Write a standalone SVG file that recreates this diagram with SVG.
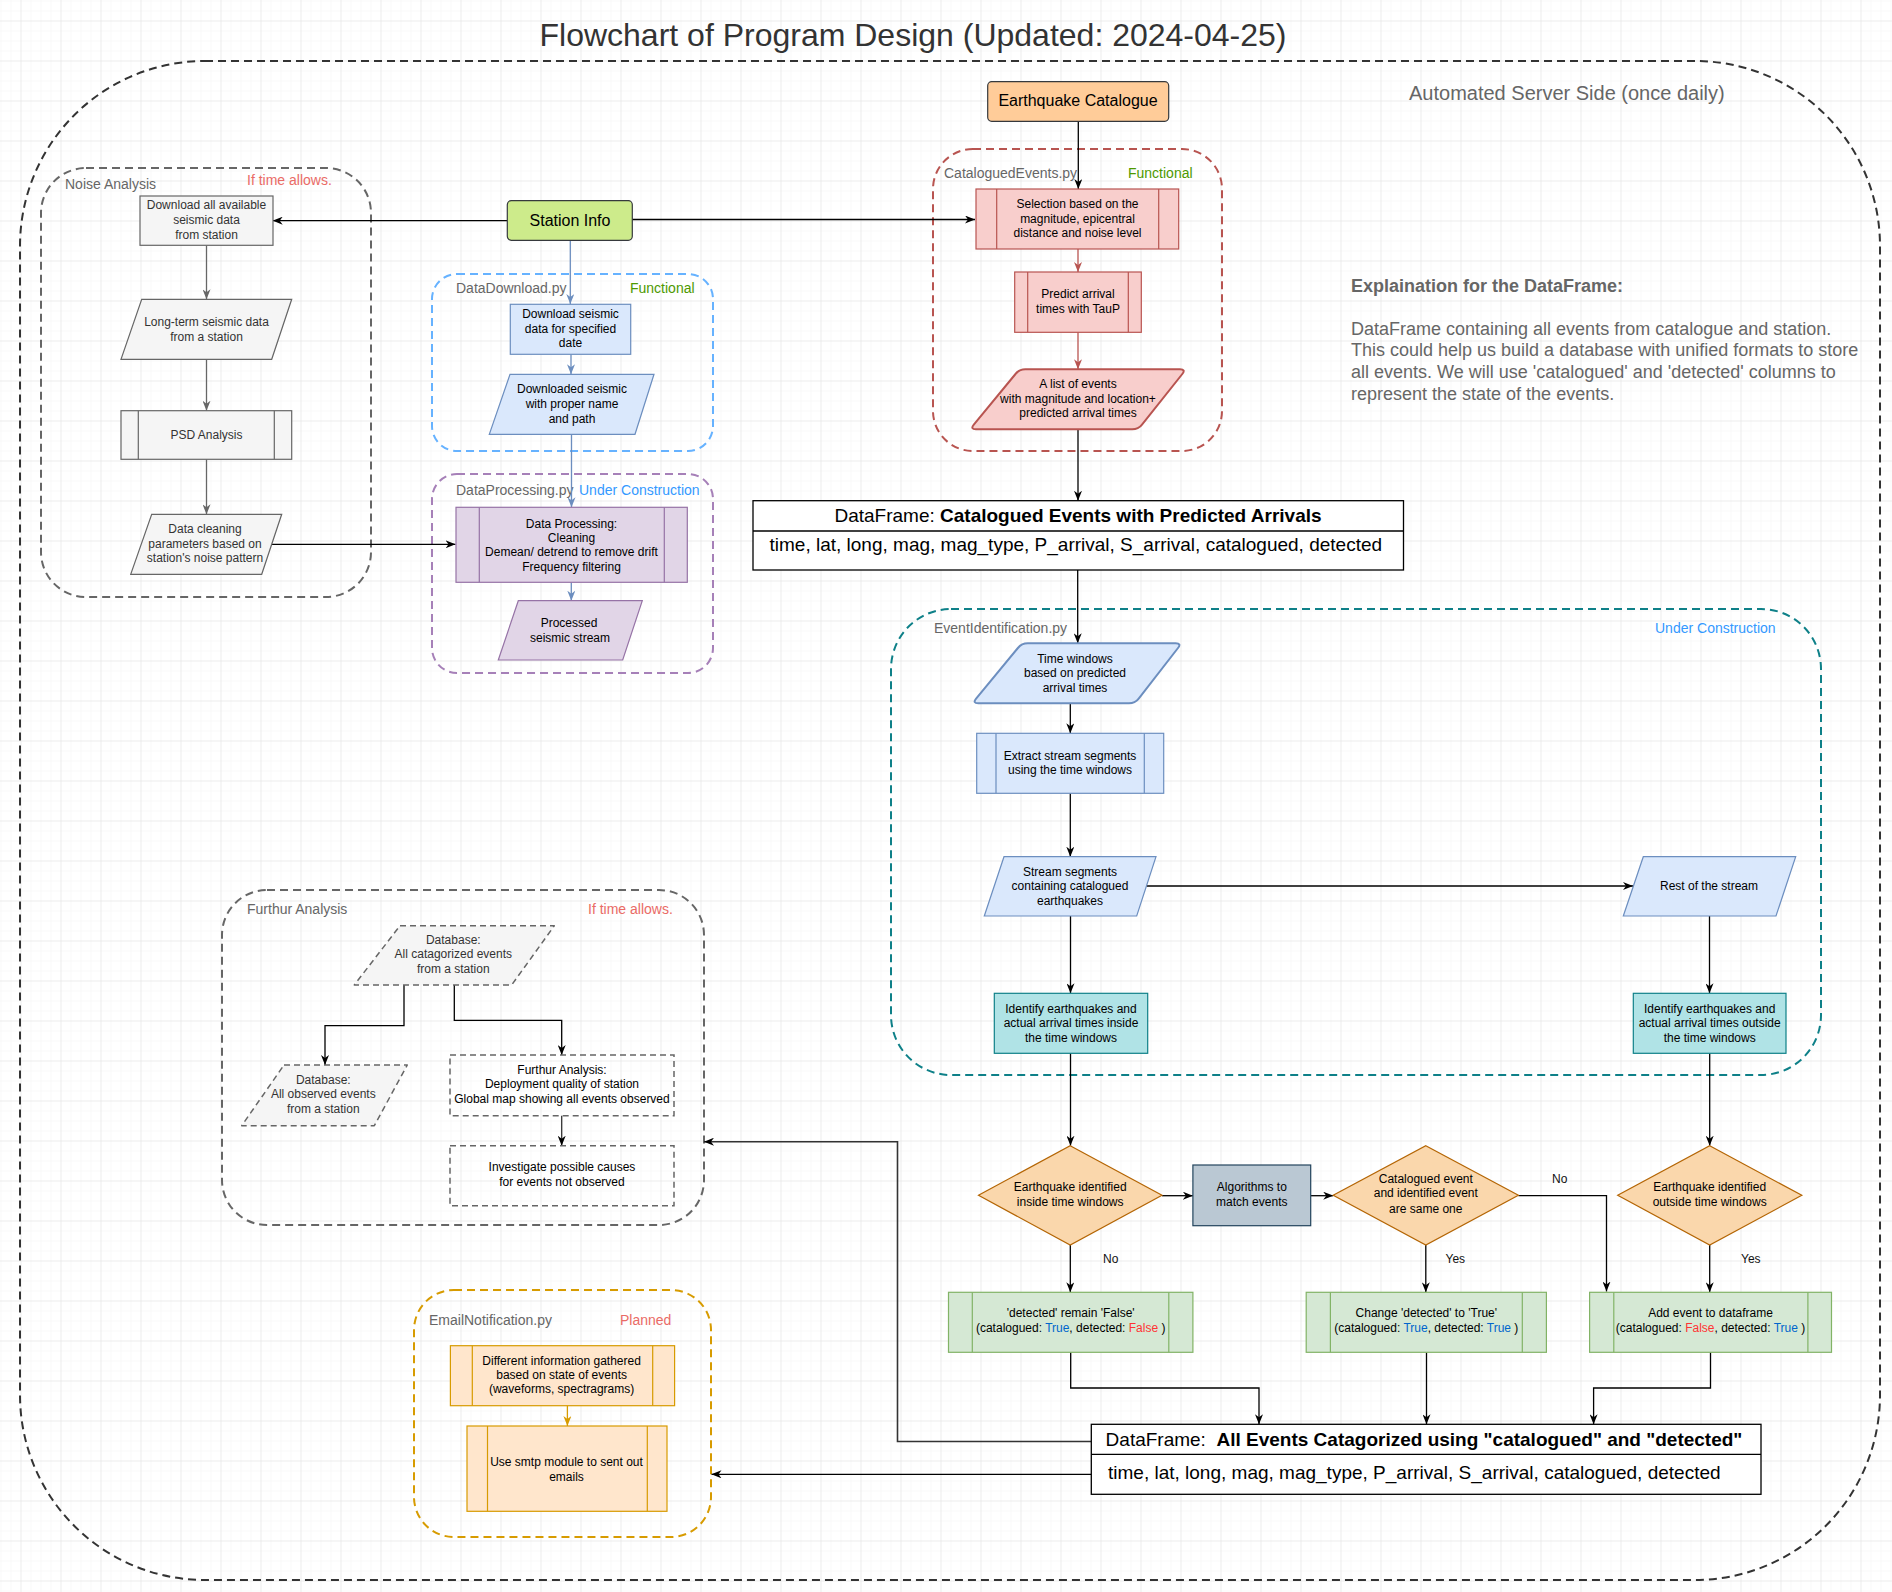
<svg xmlns="http://www.w3.org/2000/svg" width="1892" height="1592" viewBox="0 0 1892 1592">
<style>
text{font-family:"Liberation Sans",Arial,Helvetica,sans-serif}
.c{text-anchor:middle}
.b12{font-size:12px;fill:#000}
.g12{font-size:12px;fill:#333}
.grp{font-size:14px;fill:#666}
.red{font-size:14px;fill:#EA6B66}
.grn{font-size:14px;fill:#4D9900}
.blu{font-size:14px;fill:#3399FF}
.lab{font-size:12px;fill:#111}
.tr{fill:#0066CC}
.fa{fill:#FF3333}
.gr{fill:none;stroke-width:2;stroke-dasharray:8 5}
.cn{fill:none;stroke:#000;stroke-width:1.3}
.gray{fill:#f5f5f5;stroke:#666;stroke-width:1.2}
.blue{fill:#dae8fc;stroke:#6c8ebf;stroke-width:1.2}
.purp{fill:#e1d5e7;stroke:#9673a6;stroke-width:1.2}
.pink{fill:#f8cecc;stroke:#b85450;stroke-width:1.2}
.teal{fill:#b0e3e6;stroke:#0e8088;stroke-width:1.2}
.oran{fill:#fad7ac;stroke:#b46504;stroke-width:1.2}
.gree{fill:#d5e8d4;stroke:#82b366;stroke-width:1.2}
.peach{fill:#ffe6cc;stroke:#d79b00;stroke-width:1.2}
.dsh{stroke:#666;stroke-width:1.5;stroke-dasharray:6 4}
</style>
<defs>
<pattern id="gmin" width="10" height="10" patternUnits="userSpaceOnUse" x="0.5" y="0.5"><path d="M10 0H0V10" fill="none" stroke="#f4f4f4" stroke-width="1"/></pattern>
<pattern id="gmaj" width="40" height="40" patternUnits="userSpaceOnUse" x="20.5" y="20.5"><path d="M40 0H0V40" fill="none" stroke="#e4e4e4" stroke-width="1"/></pattern>
<marker id="ak" viewBox="0 0 10 8" refX="10" refY="4" markerWidth="10" markerHeight="8" markerUnits="userSpaceOnUse" orient="auto"><path d="M0,0 L10,4 L0,8 L3,4 Z" fill="#000"/></marker>
<marker id="ag" viewBox="0 0 10 8" refX="10" refY="4" markerWidth="10" markerHeight="8" markerUnits="userSpaceOnUse" orient="auto"><path d="M0,0 L10,4 L0,8 L3,4 Z" fill="#666"/></marker>
<marker id="ab" viewBox="0 0 10 8" refX="10" refY="4" markerWidth="10" markerHeight="8" markerUnits="userSpaceOnUse" orient="auto"><path d="M0,0 L10,4 L0,8 L3,4 Z" fill="#6c8ebf"/></marker>
<marker id="ar" viewBox="0 0 10 8" refX="10" refY="4" markerWidth="10" markerHeight="8" markerUnits="userSpaceOnUse" orient="auto"><path d="M0,0 L10,4 L0,8 L3,4 Z" fill="#b85450"/></marker>
<marker id="ao" viewBox="0 0 10 8" refX="10" refY="4" markerWidth="10" markerHeight="8" markerUnits="userSpaceOnUse" orient="auto"><path d="M0,0 L10,4 L0,8 L3,4 Z" fill="#d79b00"/></marker>
</defs>
<rect width="1892" height="1592" fill="#fff"/>
<rect width="1892" height="1592" fill="url(#gmin)"/>
<rect width="1892" height="1592" fill="url(#gmaj)"/>

<text x="913" y="46" class="c" style="font-size:32px;fill:#333">Flowchart of Program Design (Updated: 2024-04-25)</text>

<g id="server-side">
<rect x="20" y="61" width="1860" height="1519" rx="185" class="gr" stroke="#333"/>
<text x="1409" y="100" style="font-size:20px;fill:#666">Automated Server Side (once daily)</text>
</g>

<g id="explanation">
<text x="1351" y="292" style="font-size:18px;fill:#666;font-weight:bold">Explaination for the DataFrame:</text>
<text x="1351" y="334.5" style="font-size:18px;fill:#666">DataFrame containing all events from catalogue and station.</text>
<text x="1351" y="356.2" style="font-size:18px;fill:#666">This could help us build a database with unified formats to store</text>
<text x="1351" y="377.9" style="font-size:18px;fill:#666">all events. We will use 'catalogued' and 'detected' columns to</text>
<text x="1351" y="399.6" style="font-size:18px;fill:#666">represent the state of the events.</text>
</g>

<!-- Groups / containers -->
<g id="noise-analysis">
<rect x="41" y="168" width="330" height="429" rx="45" class="gr" stroke="#666"/>
<text x="65" y="189" class="grp">Noise Analysis</text>
<text x="247" y="185" class="red">If time allows.</text>
</g>
<g id="datadownload-py">
<rect x="432" y="274" width="281" height="177" rx="25" class="gr" stroke="#66B2FF"/>
<text x="456" y="293" class="grp">DataDownload.py</text>
<text x="630" y="293" class="grn">Functional</text>
</g>
<g id="dataprocessing-py">
<rect x="432" y="474" width="281" height="199" rx="25" class="gr" stroke="#A680B8"/>
<text x="456" y="495" class="grp">DataProcessing.py</text>
<text x="579" y="495" class="blu">Under Construction</text>
</g>
<g id="cataloguedevents-py">
<rect x="933" y="149" width="289" height="302" rx="40" class="gr" stroke="#b85450"/>
<text x="944" y="178" class="grp">CataloguedEvents.py</text>
<text x="1128" y="178" class="grn">Functional</text>
</g>
<g id="eventidentification-py">
<rect x="891" y="609" width="930" height="466" rx="60" class="gr" stroke="#0e8088"/>
<text x="934" y="633" class="grp">EventIdentification.py</text>
<text x="1655" y="633" class="blu">Under Construction</text>
</g>
<g id="furthur-analysis">
<rect x="222" y="890" width="482" height="335" rx="45" class="gr" stroke="#666"/>
<text x="247" y="914" class="grp">Furthur Analysis</text>
<text x="588" y="914" class="red">If time allows.</text>
</g>
<g id="emailnotification-py">
<rect x="414" y="1290" width="297" height="247" rx="40" class="gr" stroke="#d79b00"/>
<text x="429" y="1325" class="grp">EmailNotification.py</text>
<text x="620" y="1325" class="red">Planned</text>
</g>

<!-- Connectors -->
<g id="connectors">
<path d="M507,220.7 H272.7" class="cn" marker-end="url(#ak)"/>
<path d="M632,219.5 H975" class="cn" marker-end="url(#ak)"/>
<path d="M206.5,245.3 V299.3" class="cn" style="stroke:#666" marker-end="url(#ag)"/>
<path d="M206.5,359.3 V410.7" class="cn" style="stroke:#666" marker-end="url(#ag)"/>
<path d="M206.5,459.3 V514.3" class="cn" style="stroke:#666" marker-end="url(#ag)"/>
<path d="M271.7,544.3 H455.5" class="cn" marker-end="url(#ak)"/>
<path d="M570.3,240.3 V304" class="cn" style="stroke:#6c8ebf" marker-end="url(#ab)"/>
<path d="M571,354.3 V374.3" class="cn" style="stroke:#6c8ebf" marker-end="url(#ab)"/>
<path d="M571.5,434.3 V507.3" class="cn" style="stroke:#6c8ebf" marker-end="url(#ab)"/>
<path d="M571.3,582.3 V600.7" class="cn" style="stroke:#6c8ebf" marker-end="url(#ab)"/>
<path d="M1078.3,121.3 V189" class="cn" marker-end="url(#ak)"/>
<path d="M1078,249 V272" class="cn" style="stroke:#b85450" marker-end="url(#ar)"/>
<path d="M1078,332.3 V369.3" class="cn" style="stroke:#b85450" marker-end="url(#ar)"/>
<path d="M1078,429.3 V500.7" class="cn" marker-end="url(#ak)"/>
<path d="M1077.7,570 V643.3" class="cn" marker-end="url(#ak)"/>
<path d="M1070.3,703.3 V733.3" class="cn" marker-end="url(#ak)"/>
<path d="M1070.3,793.3 V856.7" class="cn" marker-end="url(#ak)"/>
<path d="M1146.5,886 H1633" class="cn" marker-end="url(#ak)"/>
<path d="M1070.5,916 V993.3" class="cn" marker-end="url(#ak)"/>
<path d="M1709.5,916 V993.3" class="cn" marker-end="url(#ak)"/>
<path d="M1070.5,1053.3 V1145.7" class="cn" marker-end="url(#ak)"/>
<path d="M1709.7,1053.3 V1145.7" class="cn" marker-end="url(#ak)"/>
<path d="M1162,1195.7 H1192.9" class="cn" marker-end="url(#ak)"/>
<path d="M1310.7,1195.7 H1333.2" class="cn" marker-end="url(#ak)"/>
<path d="M1518.4,1195.7 H1606.5 V1291.5" class="cn" marker-end="url(#ak)"/>
<path d="M1070.3,1245 V1292.3" class="cn" marker-end="url(#ak)"/>
<path d="M1425.8,1245 V1292.3" class="cn" marker-end="url(#ak)"/>
<path d="M1709.7,1245 V1292.3" class="cn" marker-end="url(#ak)"/>
<path d="M1070.7,1352.3 V1388 H1259 V1424.3" class="cn" marker-end="url(#ak)"/>
<path d="M1426.5,1352.3 V1424.3" class="cn" marker-end="url(#ak)"/>
<path d="M1710.5,1352.3 V1388 H1593.6 V1424.3" class="cn" marker-end="url(#ak)"/>
<path d="M1091.3,1441.5 H897.5 V1141.7 H704" class="cn" style="stroke:#333;stroke-width:1.6" marker-end="url(#ak)"/>
<path d="M1091.3,1474.3 H711.5" class="cn" marker-end="url(#ak)"/>
<path d="M404,985 V1025.7 H325 V1065" class="cn" marker-end="url(#ak)"/>
<path d="M454.3,985 V1020.3 H561.7 V1055" class="cn" marker-end="url(#ak)"/>
<path d="M561.7,1115.7 V1145.7" class="cn" style="stroke:#333" marker-end="url(#ak)"/>
<path d="M567.4,1405.7 V1426" class="cn" style="stroke:#d79b00" marker-end="url(#ao)"/>
<text x="1103" y="1263" class="lab">No</text>
<text x="1445.5" y="1263" class="lab">Yes</text>
<text x="1552" y="1183" class="lab">No</text>
<text x="1741" y="1263" class="lab">Yes</text>
</g>

<!-- Nodes -->
<g id="station-info">
<rect x="507.3" y="200.7" width="125" height="39.6" rx="4" fill="#cdeb8b" stroke="#36393d" stroke-width="1.2"/>
<text x="570" y="226" class="c" style="font-size:16px;fill:#000">Station Info</text>
</g>
<g id="earthquake-catalogue">
<rect x="987.7" y="81.7" width="181" height="39.6" rx="4" fill="#ffcc99" stroke="#36393d" stroke-width="1.2"/>
<text x="1078" y="106" class="c" style="font-size:16px;fill:#000">Earthquake Catalogue</text>
</g>

<g id="noise-download">
<rect x="140" y="196" width="133" height="49.3" class="gray"/>
<text class="c g12"><tspan x="206.5" y="209.3">Download all available</tspan><tspan x="206.5" y="224">seismic data</tspan><tspan x="206.5" y="238.7">from station</tspan></text>
</g>
<g id="noise-longterm">
<polygon points="141.7,299.3 291.7,299.3 271.7,359.3 121,359.3" class="gray"/>
<text class="c g12"><tspan x="206.5" y="326">Long-term seismic data</tspan><tspan x="206.5" y="340.7">from a station</tspan></text>
</g>
<g id="noise-psd">
<rect x="121" y="410.7" width="170.7" height="48.6" class="gray"/>
<path d="M138.3,410.7 V459.3 M274.3,410.7 V459.3" class="gray"/>
<text x="206.5" y="438.7" class="c g12">PSD Analysis</text>
</g>
<g id="noise-cleaning">
<polygon points="151.7,514.3 281.7,514.3 261.7,574.3 130.7,574.3" class="gray"/>
<text class="c g12"><tspan x="205" y="533.3">Data cleaning</tspan><tspan x="205" y="548">parameters based on</tspan><tspan x="205" y="562.3">station's noise pattern</tspan></text>
</g>

<g id="download-seismic">
<rect x="510.3" y="304.3" width="120.4" height="50" class="blue"/>
<text class="c b12"><tspan x="570.5" y="318.3">Download seismic</tspan><tspan x="570.5" y="332.7">data for specified</tspan><tspan x="570.5" y="347.3">date</tspan></text>
</g>
<g id="downloaded-seismic">
<polygon points="510,374.3 654,374.3 635,434.3 489.3,434.3" class="blue"/>
<text class="c b12"><tspan x="572" y="393.3">Downloaded seismic</tspan><tspan x="572" y="407.7">with proper name</tspan><tspan x="572" y="422.7">and path</tspan></text>
</g>
<g id="data-processing">
<rect x="456" y="507.3" width="231.3" height="75" class="purp"/>
<path d="M479.3,507.3 V582.3 M664.3,507.3 V582.3" class="purp"/>
<text class="c b12"><tspan x="571.5" y="527.7">Data Processing:</tspan><tspan x="571.5" y="541.7">Cleaning</tspan><tspan x="571.5" y="556">Demean/ detrend to remove drift</tspan><tspan x="571.5" y="570.7">Frequency filtering</tspan></text>
</g>
<g id="processed-stream">
<polygon points="518.3,600.7 642.3,600.7 622.7,660 498.3,660" class="purp"/>
<text class="c b12"><tspan x="569" y="626.7">Processed</tspan><tspan x="570" y="641.7">seismic stream</tspan></text>
</g>

<g id="selection">
<rect x="976" y="189" width="202.7" height="60" class="pink"/>
<path d="M996.7,189 V249 M1158.7,189 V249" class="pink"/>
<text class="c b12"><tspan x="1077.5" y="208.3">Selection based on the</tspan><tspan x="1077.5" y="222.7">magnitude, epicentral</tspan><tspan x="1077.5" y="237.3">distance and noise level</tspan></text>
</g>
<g id="predict-arrival">
<rect x="1014.7" y="272" width="126.6" height="60.3" class="pink"/>
<path d="M1027.7,272 V332.3 M1128.3,272 V332.3" class="pink"/>
<text class="c b12"><tspan x="1078" y="298.3">Predict arrival</tspan><tspan x="1078" y="312.7">times with TauP</tspan></text>
</g>
<g id="event-list">
<path d="M1025.3,369.3 L1180,369.3 Q1186,369.3 1182.3,374 L1142,424.6 Q1138.3,429.3 1132.3,429.3 L976,429.3 Q970,429.3 973.8,424.7 L1015.5,374 Q1019.3,369.3 1025.3,369.3 Z" fill="#f8cecc" stroke="#b85450" stroke-width="2"/>
<text class="c b12"><tspan x="1078" y="388.3">A list of events</tspan><tspan x="1078" y="402.7">with magnitude and location+</tspan><tspan x="1078" y="417.3">predicted arrival times</tspan></text>
</g>

<g id="dataframe-catalogued">
<rect x="753" y="500.7" width="650.5" height="69.3" fill="#fff" stroke="#000" stroke-width="1.3"/>
<path d="M753,531 H1403.5" stroke="#000" stroke-width="1.3"/>
<text x="1078" y="522" class="c" style="font-size:19px;fill:#000">DataFrame: <tspan style="font-weight:bold">Catalogued Events with Predicted Arrivals</tspan></text>
<text x="769.5" y="551" style="font-size:19px;fill:#000">time, lat, long, mag, mag_type, P_arrival, S_arrival, catalogued, detected</text>
</g>

<g id="time-windows">
<path d="M1027.7,643.3 L1175.7,643.3 Q1181.7,643.3 1178,648 L1138.7,698.6 Q1135,703.3 1129,703.3 L978.3,703.3 Q972.3,703.3 976.1,698.7 L1017.9,648 Q1021.7,643.3 1027.7,643.3 Z" fill="#dae8fc" stroke="#6c8ebf" stroke-width="2"/>
<text class="c b12"><tspan x="1075" y="662.7">Time windows</tspan><tspan x="1075" y="676.7">based on predicted</tspan><tspan x="1075" y="691.7">arrival times</tspan></text>
</g>
<g id="extract-segments">
<rect x="976.7" y="733.3" width="187" height="60" class="blue"/>
<path d="M996,733.3 V793.3 M1144.3,733.3 V793.3" class="blue"/>
<text class="c b12"><tspan x="1070" y="760">Extract stream segments</tspan><tspan x="1070" y="774.3">using the time windows</tspan></text>
</g>
<g id="stream-segments">
<polygon points="1004,856.7 1156,856.7 1136.7,916 984.3,916" class="blue"/>
<text class="c b12"><tspan x="1070" y="876">Stream segments</tspan><tspan x="1070" y="890">containing catalogued</tspan><tspan x="1070" y="905">earthquakes</tspan></text>
</g>
<g id="rest-of-stream">
<polygon points="1643.3,856.7 1795.7,856.7 1776,916 1623.3,916" class="blue"/>
<text x="1709" y="890" class="c b12">Rest of the stream</text>
</g>
<g id="identify-inside">
<rect x="994.3" y="993.3" width="153.4" height="60" class="teal"/>
<text class="c b12"><tspan x="1071" y="1012.7">Identify earthquakes and</tspan><tspan x="1071" y="1026.7">actual arrival times inside</tspan><tspan x="1071" y="1041.7">the time windows</tspan></text>
</g>
<g id="identify-outside">
<rect x="1633.3" y="993.3" width="152.7" height="60" class="teal"/>
<text class="c b12"><tspan x="1709.7" y="1012.7">Identify earthquakes and</tspan><tspan x="1709.7" y="1026.7">actual arrival times outside</tspan><tspan x="1709.7" y="1041.7">the time windows</tspan></text>
</g>

<g id="decision-inside">
<polygon points="1070.2,1145.7 1162,1195.3 1070.2,1245 978.5,1195.3" class="oran"/>
<text class="c b12"><tspan x="1070.2" y="1190.7">Earthquake identified</tspan><tspan x="1070.2" y="1205.7">inside time windows</tspan></text>
</g>
<g id="algorithms">
<rect x="1192.9" y="1165" width="117.8" height="60.7" fill="#bac8d3" stroke="#23445d" stroke-width="1.2"/>
<text class="c b12"><tspan x="1251.8" y="1190.7">Algorithms to</tspan><tspan x="1251.8" y="1205.7">match events</tspan></text>
</g>
<g id="decision-same">
<polygon points="1425.8,1145.7 1518.4,1195.3 1425.8,1245 1333.2,1195.3" class="oran"/>
<text class="c b12"><tspan x="1425.8" y="1183.3">Catalogued event</tspan><tspan x="1425.8" y="1197.3">and identified event</tspan><tspan x="1425.8" y="1212.7">are same one</tspan></text>
</g>
<g id="decision-outside">
<polygon points="1709.7,1145.7 1801.8,1195.3 1709.7,1245 1617.7,1195.3" class="oran"/>
<text class="c b12"><tspan x="1709.7" y="1190.7">Earthquake identified</tspan><tspan x="1709.7" y="1205.7">outside time windows</tspan></text>
</g>

<g id="remain-false">
<rect x="948.5" y="1292.3" width="244.4" height="60" class="gree"/>
<path d="M972.3,1292.3 V1352.3 M1168.8,1292.3 V1352.3" class="gree"/>
<text class="c b12"><tspan x="1070.7" y="1316.7">'detected' remain 'False'</tspan><tspan x="1070.7" y="1332.3">(catalogued: <tspan class="tr">True</tspan>, detected: <tspan class="fa">False</tspan> )</tspan></text>
</g>
<g id="change-true">
<rect x="1306.2" y="1292.3" width="240.2" height="60" class="gree"/>
<path d="M1330.4,1292.3 V1352.3 M1522.3,1292.3 V1352.3" class="gree"/>
<text class="c b12"><tspan x="1426.3" y="1316.7">Change 'detected' to 'True'</tspan><tspan x="1426.3" y="1332.3">(catalogued: <tspan class="tr">True</tspan>, detected: <tspan class="tr">True</tspan> )</tspan></text>
</g>
<g id="add-event">
<rect x="1589.6" y="1292.3" width="241.9" height="60" class="gree"/>
<path d="M1613.8,1292.3 V1352.3 M1807.9,1292.3 V1352.3" class="gree"/>
<text class="c b12"><tspan x="1710.5" y="1316.7">Add event to dataframe</tspan><tspan x="1710.5" y="1332.3">(catalogued: <tspan class="fa">False</tspan>, detected: <tspan class="tr">True</tspan> )</tspan></text>
</g>

<g id="dataframe-all">
<rect x="1091.3" y="1424.3" width="669.7" height="70" fill="#fff" stroke="#000" stroke-width="1.3"/>
<path d="M1091.3,1454.3 H1761" stroke="#000" stroke-width="1.3"/>
<text x="1105.6" y="1446" style="font-size:19px;fill:#000">DataFrame:&#160; <tspan style="font-weight:bold">All Events Catagorized using "catalogued" and "detected"</tspan></text>
<text x="1108" y="1479" style="font-size:19px;fill:#000">time, lat, long, mag, mag_type, P_arrival, S_arrival, catalogued, detected</text>
</g>

<g id="db-categorized">
<polygon points="400,925.7 554.3,925.7 511.7,985 354.3,985" class="gray dsh" stroke-linejoin="round"/>
<text class="c g12"><tspan x="453.3" y="944.3">Database:</tspan><tspan x="453.3" y="958.3">All catagorized events</tspan><tspan x="453.3" y="973.3">from a station</tspan></text>
</g>
<g id="db-observed">
<polygon points="284,1065 407.3,1065 374.3,1125.7 241.7,1125.7" class="gray dsh" stroke-linejoin="round"/>
<text class="c g12"><tspan x="323.3" y="1084.3">Database:</tspan><tspan x="323.3" y="1098.3">All observed events</tspan><tspan x="323.3" y="1113.3">from a station</tspan></text>
</g>
<g id="furthur-analysis-node">
<rect x="450" y="1055" width="224" height="60.7" fill="none" class="dsh"/>
<text class="c b12"><tspan x="562" y="1074.3">Furthur Analysis:</tspan><tspan x="562" y="1088.3">Deployment quality of station</tspan><tspan x="562" y="1103.3">Global map showing all events observed</tspan></text>
</g>
<g id="investigate">
<rect x="450" y="1145.7" width="224" height="60" fill="none" class="dsh"/>
<text class="c b12"><tspan x="562" y="1171">Investigate possible causes</tspan><tspan x="562" y="1186">for events not observed</tspan></text>
</g>

<g id="email-info">
<rect x="450.4" y="1345.7" width="224.2" height="60" class="peach"/>
<path d="M472.3,1345.7 V1405.7 M652.7,1345.7 V1405.7" class="peach"/>
<text class="c b12"><tspan x="561.6" y="1365">Different information gathered</tspan><tspan x="561.6" y="1379">based on state of events</tspan><tspan x="561.6" y="1393.3">(waveforms, spectragrams)</tspan></text>
</g>
<g id="email-smtp">
<rect x="467" y="1426" width="200" height="85.3" class="peach"/>
<path d="M487.5,1426 V1511.3 M647.3,1426 V1511.3" class="peach"/>
<text class="c b12"><tspan x="566.5" y="1466">Use smtp module to sent out</tspan><tspan x="566.5" y="1481">emails</tspan></text>
</g>
</svg>
